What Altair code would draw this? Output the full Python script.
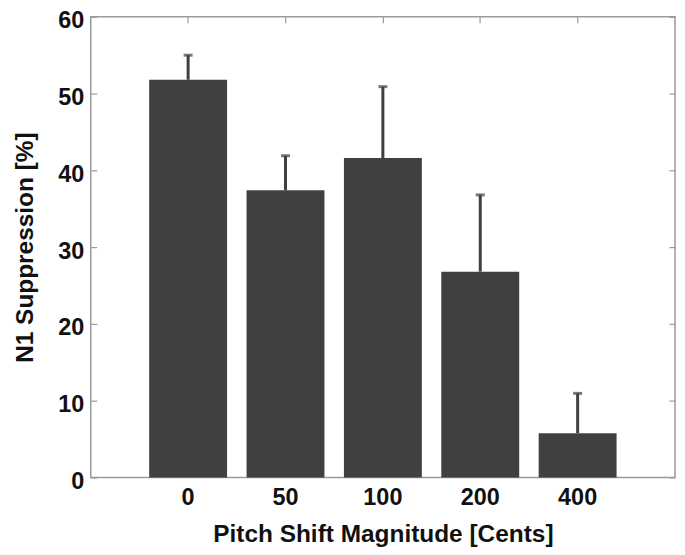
import altair as alt
import pandas as pd

categories = ["0", "50", "100", "200", "400"]
suppression = [51.8, 37.4, 41.6, 26.8, 5.75]
upper_err = [55.0, 41.9, 50.9, 36.8, 10.95]
y_ticks = [0, 10, 20, 30, 40, 50, 60]

df = pd.DataFrame({"cat": categories, "val": suppression, "hi": upper_err})

W, H = 586, 462
FONT = "Liberation Sans"
BAR = "#404040"
FRAME = "#9a9a9a"

xscale = alt.Scale(paddingInner=0.2, paddingOuter=0.6)
yscale = alt.Scale(domain=[0, 60], nice=False)

bars = alt.Chart(df).mark_bar(color=BAR).encode(
    x=alt.X("cat:N", sort=categories, scale=xscale,
            axis=alt.Axis(title="Pitch Shift Magnitude [Cents]", labelAngle=0,
                          ticks=False, domain=False, labelPadding=8,
                          titlePadding=14)),
    y=alt.Y("val:Q", scale=yscale,
            axis=alt.Axis(title="N1 Suppression [%]", values=y_ticks,
                          ticks=False, domain=False, grid=False, labelPadding=7,
                          labelBaseline="top", labelOffset=-8,
                          titlePadding=20)),
)

rules = alt.Chart(df).mark_rule(color=BAR, strokeWidth=3).encode(
    x=alt.X("cat:N", sort=categories, scale=xscale,
            axis=alt.Axis(orient="bottom", offset=-H, labels=False, domain=False,
                          title=None, tickSize=6, tickColor=FRAME, tickWidth=1.2)),
    y=alt.Y("val:Q", scale=yscale,
            axis=alt.Axis(orient="right", offset=-W, labels=False, domain=False,
                          title=None, grid=False, values=y_ticks,
                          tickSize=6, tickColor=FRAME, tickWidth=1.2)),
    y2="hi:Q",
)

caps = alt.Chart(df).mark_tick(color=BAR, thickness=3, size=9).encode(
    x=alt.X("cat:N", sort=categories, scale=xscale, axis=None),
    y=alt.Y("hi:Q", scale=yscale,
            axis=alt.Axis(orient="left", offset=-W, labels=False, domain=False,
                          title=None, grid=False, values=y_ticks,
                          tickSize=6, tickColor=FRAME, tickWidth=1.2)),
)

chart = alt.layer(bars, rules, caps).resolve_axis(
    x="independent", y="independent"
).properties(
    width=W, height=H,
    autosize=alt.AutoSizeParams(type="none"),
    padding={"left": 83, "top": 8, "right": 2, "bottom": 75},
).configure_view(
    stroke=FRAME, strokeWidth=1.5
).configure_axis(
    labelFont=FONT, titleFont=FONT, labelFontSize=23.5, titleFontSize=24.5,
    labelFontWeight="bold", titleFontWeight="bold",
    labelColor="#111111", titleColor="#111111",
)

chart.save("out.html", embed_options={"renderer": "svg", "actions": False})
